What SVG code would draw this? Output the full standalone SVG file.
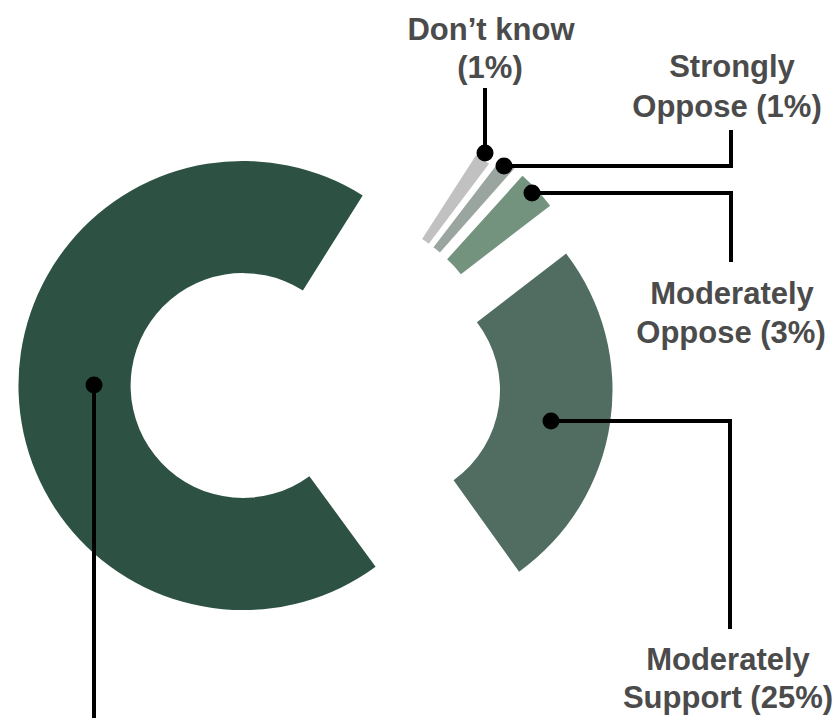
<svg xmlns="http://www.w3.org/2000/svg" width="838" height="718" viewBox="0 0 838 718">
<style>
.lbl{font-family:"Liberation Sans",Arial,sans-serif;font-weight:bold;font-size:31px;fill:#4b4b4b;text-anchor:middle}
.ln{fill:none;stroke:#000;stroke-width:4}
.dot{fill:#000}
</style>
<rect width="838" height="718" fill="#ffffff"/>
<g id="strongly-support"><path d="M375.6,566.8 A224.6,224.6 0 1 1 362.7,195.4 L302.9,290.4 A112.4,112.4 0 1 0 309.4,476.2 Z" fill="#2d5244"/></g>
<g id="moderately-support"><path d="M566.1,253.6 A223.5,223.5 0 0 1 519.1,571.7 L453.6,480.3 A111,111 0 0 0 476.9,322.3 Z" fill="#516d62"/></g>
<g id="moderately-oppose"><path d="M522.5,175.8 A224.5,224.5 0 0 1 550.1,205.7 L460.9,274.2 A112,112 0 0 0 447.1,259.3 Z" fill="#74937e"/></g>
<g id="strongly-oppose"><path d="M501.9,157.9 A224.5,224.5 0 0 1 514.5,168.3 L439.9,252.4 A112,112 0 0 0 433.5,247.2 Z" fill="#9aa5a0"/></g>
<g id="dont-know"><path d="M476.2,154.9 A212,212 0 0 1 489,163.8 L428.8,243.7 A112,112 0 0 0 422.1,239 Z" fill="#c1c1c1"/></g>
<g id="connectors">
<polyline class="ln" points="485,153 485,88"/>
<polyline class="ln" points="504,166 731,166 731,130"/>
<polyline class="ln" points="532,193 731,193 731,262"/>
<polyline class="ln" points="551,421 730,421 730,629"/>
<polyline class="ln" points="94,385 94,718"/>
<circle class="dot" cx="485" cy="153" r="8.5"/>
<circle class="dot" cx="504" cy="166" r="8.5"/>
<circle class="dot" cx="532" cy="193" r="8.5"/>
<circle class="dot" cx="551" cy="421" r="8.5"/>
<circle class="dot" cx="94" cy="385" r="8.5"/>
</g>
<g id="label-dont-know"><text class="lbl" x="491" y="40">Don’t know</text><text class="lbl" x="490" y="78">(1%)</text></g>
<g id="label-strongly-oppose"><text class="lbl" x="732" y="77">Strongly</text><text class="lbl" x="727" y="117">Oppose (1%)</text></g>
<g id="label-moderately-oppose"><text class="lbl" x="732" y="304">Moderately</text><text class="lbl" x="731" y="343">Oppose (3%)</text></g>
<g id="label-moderately-support"><text class="lbl" x="728" y="670">Moderately</text><text class="lbl" x="728" y="708">Support (25%)</text></g>
</svg>
